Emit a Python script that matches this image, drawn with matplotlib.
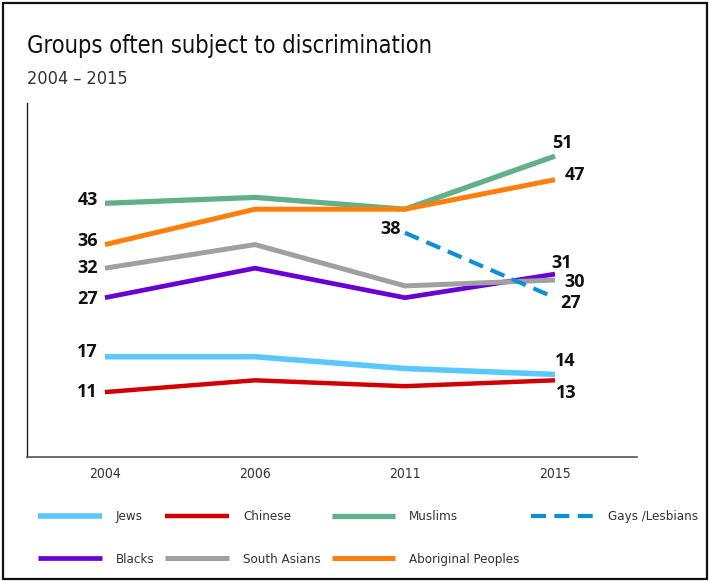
import numpy as np
import matplotlib.pyplot as plt
from matplotlib.patches import Rectangle

OUTPUT_FIG = "out.png"

YEARS = ["2004", "2006", "2011", "2015"]

JEWS = [17, 17, 15, 14]
CHINESE = [11, 13, 12, 13]
MUSLIMS = [43, 44, 42, 51]
GAYS_LESBIANS = [np.nan, np.nan, 38, 27]
BLACKS = [27, 32, 27, 31]
SOUTH_ASIANS = [32, 36, 29, 30]
ABORIGINAL = [36, 42, 42, 47]

NARROW = ["DejaVu Sans"]
BOLD = ["Open Sans", "DejaVu Sans"]

PX = 0.72  # points per pixel at dpi 100

# name -> (values, colour, linewidth, linestyle)
SERIES = [
    ("Jews", JEWS, "#5bc8fb", 4.0, "-"),
    ("Chinese", CHINESE, "#d20000", 3.2, "-"),
    ("Muslims", MUSLIMS, "#62b08a", 3.8, "-"),
    ("Blacks", BLACKS, "#6a00d4", 3.4, "-"),
    ("South Asians", SOUTH_ASIANS, "#a0a0a0", 3.6, "-"),
    ("Aboriginal Peoples", ABORIGINAL, "#ff7f0e", 3.6, "-"),
    ("Gays /Lesbians", GAYS_LESBIANS, "#0b8fd6", 3.0, (0, (3.6, 2.0))),
]

# label placement (index, ha, dx px, dy px)
LABELS = {
    "Jews": [(0, "right", -7, 5), (3, "center", 10, 13)],
    "Chinese": [(0, "right", -7, 0), (3, "center", 11, -13)],
    "Muslims": [(0, "right", -7, 3), (3, "center", 7, 13)],
    "Blacks": [(0, "right", -7, -1), (3, "center", 7, 11)],
    "South Asians": [(0, "right", -7, 0), (3, "left", 9, -2)],
    "Aboriginal Peoples": [(0, "right", -7, 4), (3, "left", 10, 5)],
    "Gays /Lesbians": [(2, "right", -4, 4), (3, "left", 5, -5)],
}

LEGEND_ORDER = ["Jews", "Blacks", "Chinese", "South Asians",
                "Muslims", "Aboriginal Peoples", "Gays /Lesbians"]


def main():
    fig = plt.figure(figsize=(7.09, 5.81), dpi=100)
    ax = fig.add_axes([27 / 709, 1 - 457 / 581, (637 - 27) / 709, (457 - 103) / 581])

    x = np.arange(len(YEARS))
    handles = {}
    for name, vals, color, lw, ls in SERIES:
        (line,) = ax.plot(x, vals, color=color, linewidth=lw, linestyle=ls,
                          solid_capstyle="butt", dash_capstyle="butt", label=name)
        handles[name] = line
        for i, ha, dx, dy in LABELS[name]:
            ax.annotate(f"{vals[i]:.0f}", (x[i], vals[i]), xytext=(dx * PX, dy * PX),
                        textcoords="offset points", ha=ha, va="center",
                        fontsize=13, fontweight="bold", family=BOLD, color="#111111")

    ax.set_xlim(-0.52, 3.547)
    ax.set_ylim(0, 60)
    ax.set_xticks(x)
    ax.set_xticklabels(YEARS, family=NARROW, fontstretch="condensed",
                       fontsize=10, color="#333333")
    ax.set_yticks([])
    ax.tick_params(axis="x", length=0, pad=7)
    for side in ["top", "right"]:
        ax.spines[side].set_visible(False)
    ax.spines["left"].set_color("#222222")
    ax.spines["bottom"].set_color("#555555")
    ax.spines["left"].set_linewidth(1.0)
    ax.spines["bottom"].set_linewidth(1.2)

    fig.text(27 / 709, 1 - 53 / 581, "Groups often subject to discrimination",
             family=NARROW, fontstretch="condensed", fontsize=17,
             color="#111111", va="baseline")
    fig.text(27 / 709, 1 - 84 / 581, "2004 \u2013 2015",
             family=NARROW, fontstretch="condensed", fontsize=13,
             color="#333333", va="baseline")

    fig.legend([handles[n] for n in LEGEND_ORDER], LEGEND_ORDER, ncol=4,
               loc="center left", bbox_to_anchor=(38 / 709, 1 - 538 / 581),
               frameon=False, borderpad=0, borderaxespad=0,
               handlelength=4.84, handletextpad=1.05, columnspacing=0.82,
               labelspacing=2.23,
               prop={"family": NARROW, "size": 9.5, "stretch": "condensed"},
               labelcolor="#333333")

    fig.patches.append(Rectangle((2.5 / 709, 2.5 / 581), 704 / 709, 576 / 581,
                                 transform=fig.transFigure, fill=False,
                                 edgecolor="#111111", linewidth=1.6))

    fig.savefig(OUTPUT_FIG, dpi=100)


if __name__ == "__main__":
    main()
